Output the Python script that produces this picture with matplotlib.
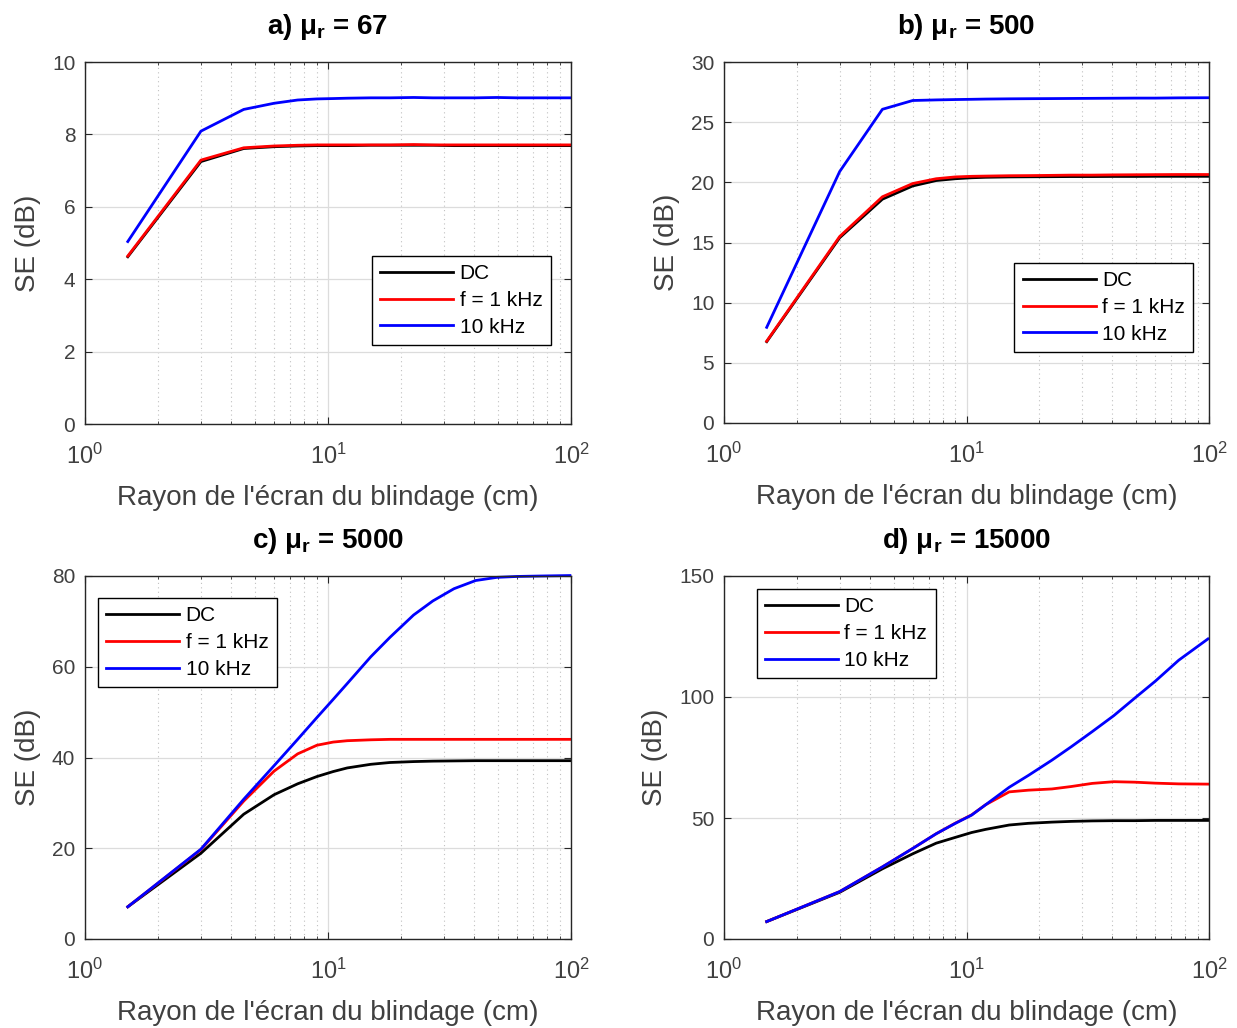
import matplotlib.pyplot as plt

plt.rcParams['font.family'] = ['Liberation Sans', 'DejaVu Sans']
plt.rcParams['mathtext.fontset'] = 'custom'
plt.rcParams['mathtext.rm'] = 'Liberation Sans'
plt.rcParams['mathtext.bf'] = 'Liberation Sans:bold'
plt.rcParams['mathtext.it'] = 'Liberation Sans:italic'

# rayon (cm), same grid for every curve
r = [1.5, 3, 4.5, 6, 7.5, 9, 10.5, 12, 15, 18, 22.5, 27, 33, 40.5, 49.5, 60, 75, 99]

# a) mu_r = 67
a_dc = [4.62, 7.25, 7.61, 7.66, 7.68, 7.69, 7.69, 7.69, 7.70, 7.70, 7.70, 7.70, 7.69, 7.69, 7.69, 7.69, 7.69, 7.69]
a_1k = [4.64, 7.29, 7.63, 7.68, 7.70, 7.71, 7.71, 7.71, 7.71, 7.71, 7.72, 7.71, 7.71, 7.71, 7.71, 7.71, 7.71, 7.71]
a_10k = [5.04, 8.09, 8.69, 8.86, 8.95, 8.98, 8.99, 9.00, 9.01, 9.01, 9.02, 9.01, 9.01, 9.01, 9.02, 9.01, 9.01, 9.01]

# b) mu_r = 500
b_dc = [6.76, 15.4, 18.6, 19.7, 20.15, 20.3, 20.38, 20.42, 20.45, 20.46, 20.47, 20.48, 20.48, 20.49, 20.49, 20.5, 20.5, 20.5]
b_1k = [6.8, 15.5, 18.8, 19.9, 20.3, 20.45, 20.5, 20.52, 20.55, 20.56, 20.58, 20.6, 20.6, 20.62, 20.63, 20.64, 20.65, 20.65]
b_10k = [7.95, 20.9, 26.07, 26.8, 26.85, 26.88, 26.9, 26.92, 26.94, 26.95, 26.96, 26.97, 26.98, 26.99, 27.0, 27.0, 27.02, 27.03]

# c) mu_r = 5000
c_dc = [7.1, 18.9, 27.5, 31.8, 34.2, 35.8, 36.9, 37.7, 38.5, 38.9, 39.1, 39.2, 39.25, 39.3, 39.3, 39.3, 39.3, 39.3]
c_1k = [7.1, 19.7, 30.4, 37.0, 40.8, 42.7, 43.4, 43.7, 43.9, 44.0, 44.0, 44.0, 44.0, 44.0, 44.0, 44.0, 44.0, 44.0]
c_10k = [7.1, 19.8, 30.8, 38.2, 44.0, 48.8, 52.8, 56.3, 62.2, 66.5, 71.4, 74.5, 77.2, 79.0, 79.7, 79.9, 80.0, 80.1]

# d) mu_r = 15000
d_dc = [7.2, 19.3, 29.0, 35.2, 39.6, 42.0, 44.0, 45.3, 47.1, 47.8, 48.3, 48.6, 48.8, 48.9, 48.9, 49.0, 49.0, 49.0]
d_1k = [7.2, 19.6, 29.8, 37.4, 43.5, 47.9, 51.3, 55.5, 60.8, 61.5, 62.0, 63.0, 64.3, 65.0, 64.8, 64.4, 64.1, 64.0]
d_10k = [7.2, 19.6, 29.8, 37.4, 43.5, 47.8, 51.2, 55.5, 62.7, 67.6, 73.9, 79.4, 85.7, 92.3, 99.6, 106.5, 115.2, 124.0]

titles = ['a) $\\mathbf{\\mu_r}$ = 67', 'b) $\\mathbf{\\mu_r}$ = 500',
          'c) $\\mathbf{\\mu_r}$ = 5000', 'd) $\\mathbf{\\mu_r}$ = 15000']
ylims = [(0, 10), (0, 30), (0, 80), (0, 150)]
yticks = [[0, 2, 4, 6, 8, 10], [0, 5, 10, 15, 20, 25, 30], [0, 20, 40, 60, 80], [0, 50, 100, 150]]
series = [(a_dc, a_1k, a_10k), (b_dc, b_1k, b_10k), (c_dc, c_1k, c_10k), (d_dc, d_1k, d_10k)]
labels = ['DC', 'f = 1 kHz', '10 kHz']
colors = ['black', 'red', 'blue']

# legend placement (loc, anchor in axes coords)
leg_pos = [('lower right', (0.958, 0.218)), ('lower right', (0.967, 0.197)),
           ('upper left', (0.027, 0.939)), ('upper left', (0.068, 0.964))]

# axes rectangles in figure pixels
W, H = 1237, 1028
boxes = [(85, 62, 571, 424), (724, 62, 1209, 423), (85, 576, 571, 939), (724, 576, 1209, 939)]

fig = plt.figure(figsize=(W / 100, H / 100), dpi=100)
gray = '#262626'
txt = '#404040'

for i in range(4):
    x0, y0, x1, y1 = boxes[i]
    ax = fig.add_axes([x0 / W, 1 - y1 / H, (x1 - x0) / W, (y1 - y0) / H])
    for ys, lab, col in zip(series[i], labels, colors):
        ax.plot(r, ys, color=col, lw=2.0, label=lab, clip_on=False)
    ax.set_xscale('log')
    ax.set_xlim(1, 100)
    ax.set_ylim(*ylims[i])
    ax.set_yticks(yticks[i])
    ax.grid(True, which='major', color='#dcdcdc', lw=0.9, ls='-')
    ax.grid(True, which='minor', axis='x', color='#c0c0c0', lw=0.8, ls=(0, (1, 3)))
    ax.set_axisbelow(True)
    ax.tick_params(which='both', direction='in', top=True, right=True,
                   colors=gray, labelsize=15, labelcolor=txt)
    ax.tick_params(which='major', length=5)
    ax.tick_params(which='minor', length=2.5)
    ax.tick_params(axis='y', which='major', pad=7)
    ax.tick_params(axis='x', which='major', pad=14, labelsize=17)
    for s in ax.spines.values():
        s.set_color(gray)
        s.set_linewidth(1.0)
    ax.set_xlabel("Rayon de l'écran du blindage (cm)", fontsize=20, color=txt, labelpad=12)
    ax.set_ylabel('SE (dB)', fontsize=20, color=txt, labelpad=8)
    ax.set_title(titles[i], fontsize=20, fontweight='bold', pad=20)
    loc, anchor = leg_pos[i]
    leg = ax.legend(loc=loc, bbox_to_anchor=anchor, fontsize=15, handlelength=3.5,
                    handletextpad=0.3, borderpad=0.4, labelspacing=0.37,
                    fancybox=False, framealpha=1, borderaxespad=0)
    leg.get_frame().set_edgecolor('black')
    leg.get_frame().set_linewidth(1.0)

fig.savefig('out.png', dpi=100)
